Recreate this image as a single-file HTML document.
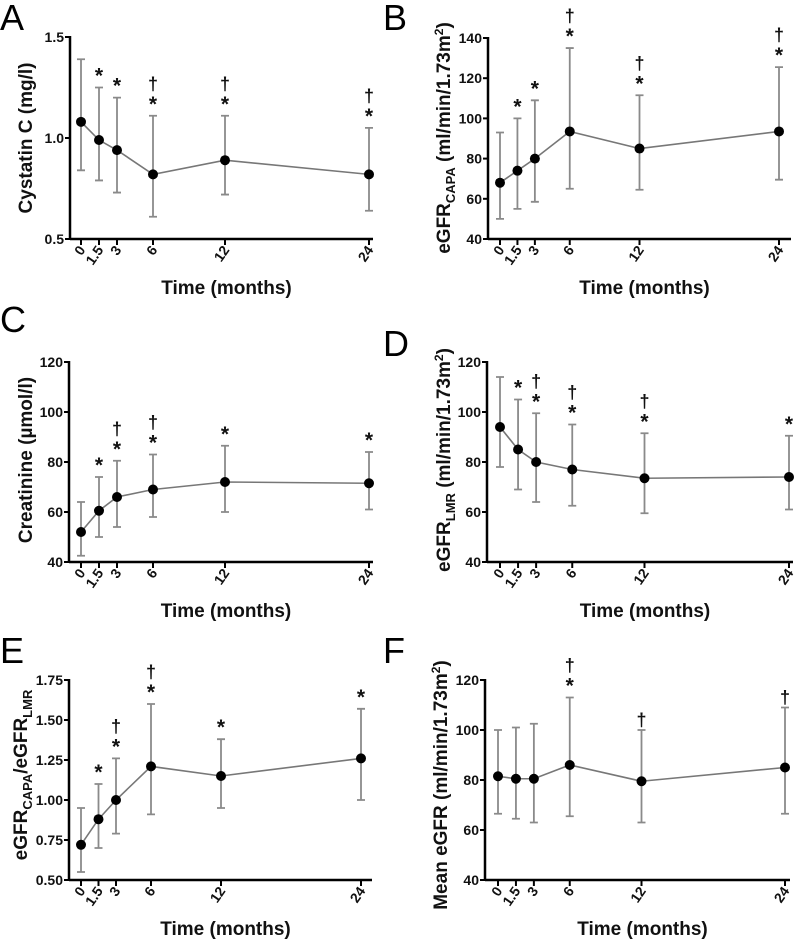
<!DOCTYPE html>
<html><head><meta charset="utf-8"><style>
html,body{margin:0;padding:0;background:#fff;}
svg{display:block;font-family:"Liberation Sans",Arial,sans-serif;}
</style></head><body>
<svg id="fig" width="796" height="944" viewBox="0 0 796 944"></svg>
<script>
const months = [0, 1.5, 3, 6, 12, 24];
const xTickLabels = ["0", "1.5", "3", "6", "12", "24"];
// Panel A: Cystatin C
const aMean = [1.08, 0.99, 0.94, 0.82, 0.89, 0.82];
const aUpper = [1.39, 1.25, 1.20, 1.11, 1.11, 1.05];
const aLower = [0.84, 0.79, 0.73, 0.61, 0.72, 0.64];
const aMarks = ["", "*", "*", "†*", "†*", "†*"];
const aTicks = ["0.5", "1.0", "1.5"];
// Panel B: eGFR CAPA
const bMean = [68, 74, 80, 93.5, 85, 93.5];
const bUpper = [93, 100, 109, 135, 111.5, 125.5];
const bLower = [50, 55, 58.5, 65, 64.5, 69.5];
const bMarks = ["", "*", "*", "†*", "†*", "†*"];
const bTicks = ["40", "60", "80", "100", "120", "140"];
// Panel C: Creatinine
const cMean = [52, 60.5, 66, 69, 72, 71.5];
const cUpper = [64, 74, 80.5, 83, 86.5, 84];
const cLower = [42.5, 50, 54, 58, 60, 61];
const cMarks = ["", "*", "†*", "†*", "*", "*"];
const cTicks = ["40", "60", "80", "100", "120"];
// Panel D: eGFR LMR
const dMean = [94, 85, 80, 77, 73.5, 74];
const dUpper = [114, 105, 99.5, 95, 91.5, 90.5];
const dLower = [78, 69, 64, 62.5, 59.5, 61];
const dMarks = ["", "*", "†*", "†*", "†*", "*"];
const dTicks = ["40", "60", "80", "100", "120"];
// Panel E: ratio
const eMean = [0.72, 0.88, 1.0, 1.21, 1.15, 1.26];
const eUpper = [0.95, 1.10, 1.26, 1.60, 1.38, 1.57];
const eLower = [0.55, 0.70, 0.79, 0.91, 0.95, 1.0];
const eMarks = ["", "*", "†*", "†*", "*", "*"];
const eTicks = ["0.50", "0.75", "1.00", "1.25", "1.50", "1.75"];
// Panel F: mean eGFR
const fMean = [81.5, 80.5, 80.5, 86, 79.5, 85];
const fUpper = [100, 101, 102.5, 113, 100, 109];
const fLower = [66.5, 64.5, 63, 65.5, 63, 66.5];
const fMarks = ["", "", "", "†*", "†", "†"];
const fTicks = ["40", "60", "80", "100", "120"];

const NS = "http://www.w3.org/2000/svg";
const svg = document.getElementById("fig");
function mk(tag, attrs, parent, text) {
  const e = document.createElementNS(NS, tag);
  for (const k in attrs) e.setAttribute(k, attrs[k]);
  if (text !== undefined) e.textContent = text;
  (parent || svg).appendChild(e);
  return e;
}

function panel(p) {
  const g = mk("g", {});
  
  
  const ymin = parseFloat(p.ticks[0]), ymax = parseFloat(p.ticks[p.ticks.length - 1]);
  const ys = v => p.yBot - (v - ymin) / (ymax - ymin) * (p.yBot - p.yTop);
  const xs = m => p.x0 + m / 24 * (p.x24 - p.x0);

  const letter = mk("text", {x: p.lx, y: p.ly, "font-size": 36, fill: "#000"}, g, p.id);
  
  

  const yAxis = mk("line", {x1: p.ax, x2: p.ax, y1: p.yTop - 1, y2: p.yBot + 1, stroke: "#000", "stroke-width": 2.5}, g);
  
  
  const xAxis = mk("line", {x1: p.ax, x2: p.xEnd, y1: p.yBot, y2: p.yBot, stroke: "#000", "stroke-width": 2.5}, g);
  
  

  p.ticks.forEach(t => {
    const y = ys(parseFloat(t));
    mk("line", {x1: p.ax - 5, x2: p.ax, y1: y, y2: y, stroke: "#000", "stroke-width": 2}, g);
    const tl = mk("text", {x: p.ax - 6, y: y + 5, "font-size": 14, "font-weight": "bold", "text-anchor": "end", fill: "#111"}, g, t);
    
    
  });
  months.forEach((m, i) => {
    const x = xs(m);
    mk("line", {x1: x, x2: x, y1: p.yBot, y2: p.yBot + 6, stroke: "#000", "stroke-width": 2}, g);
    const tl = mk("text", {x: 0, y: 0, "font-size": 14, "font-weight": "bold", "text-anchor": "end", fill: "#111",
      transform: `translate(${x + 5},${p.yBot + 11}) rotate(-55)`}, g, xTickLabels[i]);
    
    
  });

  const xt = mk("text", {x: (p.ax + p.xEnd) / 2 + 5, y: p.yBot + 55, "font-size": 19, "font-weight": "bold", "text-anchor": "middle", fill: "#111"}, g, "Time (months)");
  
  

  const yt = mk("text", {x: 0, y: 0, "font-size": 19, "font-weight": "bold", "text-anchor": "middle", fill: "#111",
    transform: `translate(${p.tx},${p.ty}) rotate(-90)`}, g);
  
  
  p.title.forEach(seg => {
    mk("tspan", seg.sub ? {"font-size": 13, dy: 5} : (seg.sup ? {"font-size": 12, dy: -7} : {dy: seg.reset || 0}), yt, seg.t);
  });

  const pts = months.map((m, i) => xs(m) + "," + ys(p.mean[i])).join(" ");
  const pl = mk("polyline", {points: pts, fill: "none", stroke: "#777", "stroke-width": 1.6}, g);
  
  

  months.forEach((m, i) => {
    const x = xs(m), yu = ys(p.upper[i]), yl = ys(p.lower[i]);
    const eb = mk("path", {d: `M${x},${yu}V${yl}M${x - 4},${yu}H${x + 4}M${x - 4},${yl}H${x + 4}`, stroke: "#8a8a8a", "stroke-width": 1.8, fill: "none"}, g);
    
    
    const c = mk("circle", {cx: x, cy: ys(p.mean[i]), r: 5, fill: "#000"}, g);
    
    
    const mark = p.marks[i];
    let y = yu - 10;
    if (mark.includes("*")) {
      const s = mk("text", {x: x, y: y + 5, "font-size": 21, "font-weight": "bold", "text-anchor": "middle", fill: "#111"}, g, "*");
      
      
      y -= 22;
    }
    if (mark.includes("†")) {
      const d = mk("text", {x: x, y: y + 6, "font-size": 18, "font-weight": "bold", "text-anchor": "middle", fill: "#111"}, g, "†");
      
      
    }
  });
}

panel({id: "A", lx: 0, ly: 30, ax: 70, yTop: 37, yBot: 239, x0: 81, x24: 369, xEnd: 373, tx: 32, ty: 138,
  mean: aMean, upper: aUpper, lower: aLower, marks: aMarks, ticks: aTicks, title: [{t: "Cystatin C (mg/l)"}]});
panel({id: "B", lx: 383, ly: 30, ax: 488, yTop: 38, yBot: 239, x0: 500, x24: 779, xEnd: 791, tx: 450, ty: 138,
  mean: bMean, upper: bUpper, lower: bLower, marks: bMarks, ticks: bTicks,
  title: [{t: "eGFR"}, {t: "CAPA", sub: 1}, {t: " (ml/min/1.73m", reset: -5}, {t: "2", sup: 1}, {t: ")", reset: 7}]});
panel({id: "C", lx: 0, ly: 332, ax: 69, yTop: 362, yBot: 562, x0: 81, x24: 369, xEnd: 373, tx: 32, ty: 460,
  mean: cMean, upper: cUpper, lower: cLower, marks: cMarks, ticks: cTicks, title: [{t: "Creatinine (µmol/l)"}]});
panel({id: "D", lx: 383, ly: 356, ax: 487, yTop: 362, yBot: 562, x0: 500, x24: 789, xEnd: 793, tx: 450, ty: 460,
  mean: dMean, upper: dUpper, lower: dLower, marks: dMarks, ticks: dTicks,
  title: [{t: "eGFR"}, {t: "LMR", sub: 1}, {t: " (ml/min/1.73m", reset: -5}, {t: "2", sup: 1}, {t: ")", reset: 7}]});
panel({id: "E", lx: 0, ly: 663, ax: 69, yTop: 680, yBot: 880, x0: 81, x24: 361, xEnd: 372, tx: 27, ty: 775,
  mean: eMean, upper: eUpper, lower: eLower, marks: eMarks, ticks: eTicks,
  title: [{t: "eGFR"}, {t: "CAPA", sub: 1}, {t: "/eGFR", reset: -5}, {t: "LMR", sub: 1}]});
panel({id: "F", lx: 383, ly: 663, ax: 485, yTop: 680, yBot: 880, x0: 498, x24: 785, xEnd: 790, tx: 447, ty: 785,
  mean: fMean, upper: fUpper, lower: fLower, marks: fMarks, ticks: fTicks,
  title: [{t: "Mean eGFR (ml/min/1.73m"}, {t: "2", sup: 1}, {t: ")", reset: 7}]});
</script>
</body></html>
